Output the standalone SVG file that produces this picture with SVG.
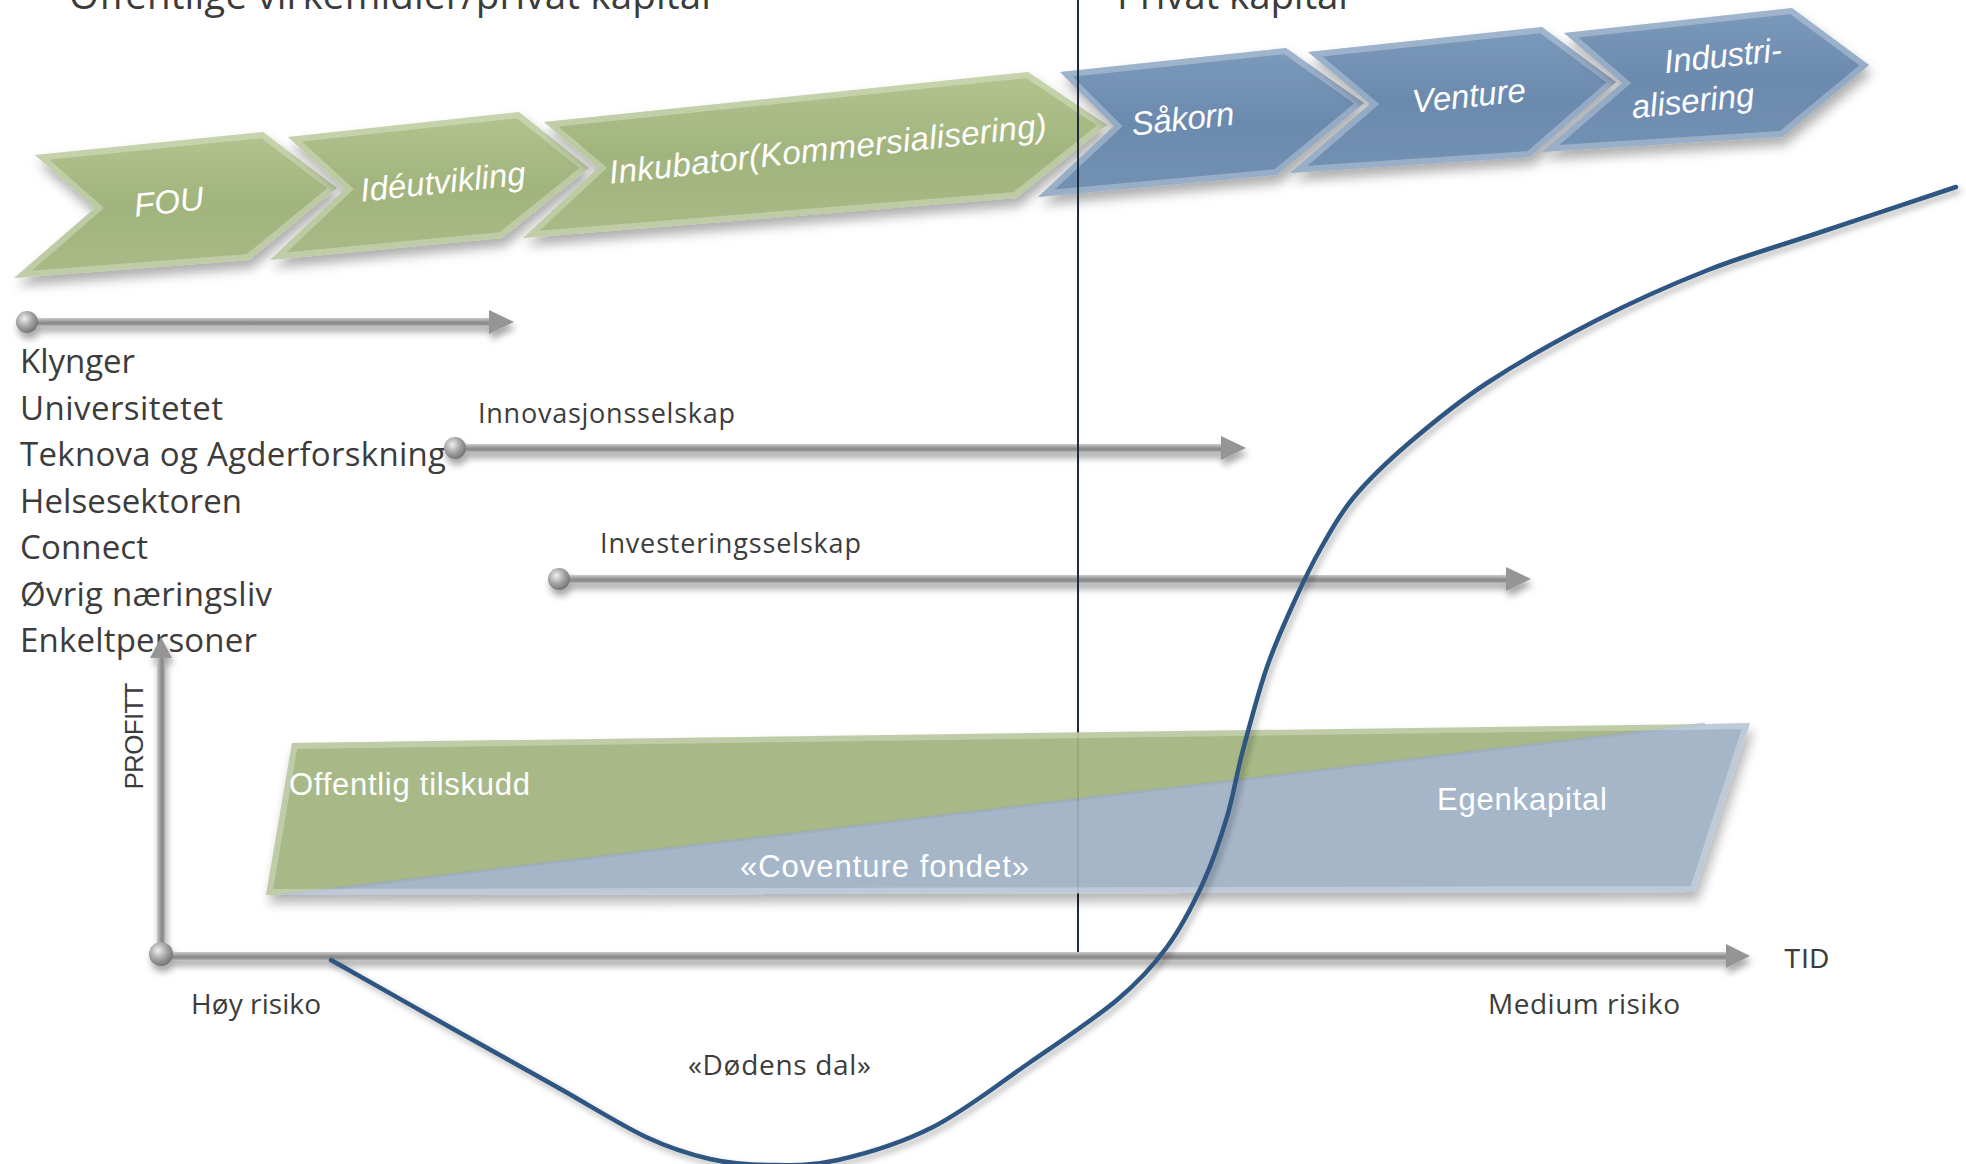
<svg xmlns="http://www.w3.org/2000/svg" width="1966" height="1164" viewBox="0 0 1966 1164">
<defs>
<style>
.lbl{font-family:'Open Sans','Liberation Sans',sans-serif;fill:#3c3c3c;}
.chev{font-family:'Liberation Sans',Arial,sans-serif;font-style:italic;font-size:33px;fill:#ffffff;text-anchor:middle;}
.area{font-family:'Liberation Sans',Arial,sans-serif;font-size:31px;fill:#ffffff;}
.ax{font-family:'Liberation Sans',Arial,sans-serif;fill:#3c3c3c;}
.bevel{fill:none;stroke:#ffffff;stroke-opacity:0.28;stroke-width:12;stroke-linejoin:miter;}
</style>
<filter id="sh" filterUnits="userSpaceOnUse" x="0" y="0" width="1966" height="1164">
<feDropShadow dx="3" dy="8" stdDeviation="6" flood-color="#000" flood-opacity="0.32"/>
</filter>
<filter id="ash" filterUnits="userSpaceOnUse" x="0" y="0" width="1966" height="1164">
<feDropShadow dx="2" dy="6" stdDeviation="3.5" flood-color="#000" flood-opacity="0.35"/>
</filter>
<filter id="csh" filterUnits="userSpaceOnUse" x="0" y="0" width="1966" height="1164">
<feDropShadow dx="3" dy="4" stdDeviation="3" flood-color="#000" flood-opacity="0.3"/>
</filter>
<linearGradient id="gGreen" x1="0" y1="0" x2="0" y2="1">
<stop offset="0" stop-color="#b3c48f"/><stop offset="0.5" stop-color="#a2b47d"/><stop offset="1" stop-color="#a9ba86"/>
</linearGradient>
<linearGradient id="gBlue" x1="0" y1="0" x2="0" y2="1">
<stop offset="0" stop-color="#7c9abb"/><stop offset="0.5" stop-color="#6b8aae"/><stop offset="1" stop-color="#7391b3"/>
</linearGradient>
<linearGradient id="shaftH" x1="0" y1="0" x2="0" y2="1">
<stop offset="0" stop-color="#cccccc"/><stop offset="0.4" stop-color="#9c9c9c"/><stop offset="0.65" stop-color="#858585"/><stop offset="1" stop-color="#b0b0b0"/>
</linearGradient>
<linearGradient id="shaftV" x1="0" y1="0" x2="1" y2="0">
<stop offset="0" stop-color="#cccccc"/><stop offset="0.4" stop-color="#9c9c9c"/><stop offset="0.65" stop-color="#858585"/><stop offset="1" stop-color="#b0b0b0"/>
</linearGradient>
<radialGradient id="ball" cx="0.38" cy="0.35" r="0.7">
<stop offset="0" stop-color="#f0f0f0"/><stop offset="0.5" stop-color="#a8a8a8"/><stop offset="1" stop-color="#6e6e6e"/>
</radialGradient>
<path id="pFou" d="M35,155 L263,132 L337,188 L249,260 L14,278 L95,208 Z"/>
<path id="pIde" d="M288,137 L519,112 L589,168 L502,238 L270,260 L345,189 Z"/>
<path id="pInk" d="M544,122 L1028,72 L1107,125 L1016,198 L523,238 L598,168 Z"/>
<path id="pSak" d="M1060,72 L1286,48 L1364,103 L1277,175 L1038,197 L1114,126 Z"/>
<path id="pVen" d="M1308,52 L1542,27 L1616,82 L1530,157 L1290,173 L1370,104 Z"/>
<path id="pInd" d="M1564,33 L1792,8 L1869,65 L1782,137 L1542,152 L1622,83 Z"/>
<path id="pArea" d="M292,743 L1750,723 L1695,892 L266,895 Z"/>
<clipPath id="cFou"><use href="#pFou"/></clipPath>
<clipPath id="cIde"><use href="#pIde"/></clipPath>
<clipPath id="cInk"><use href="#pInk"/></clipPath>
<clipPath id="cSak"><use href="#pSak"/></clipPath>
<clipPath id="cVen"><use href="#pVen"/></clipPath>
<clipPath id="cInd"><use href="#pInd"/></clipPath>
<clipPath id="cArea"><use href="#pArea"/></clipPath>
</defs>

<rect x="0" y="0" width="1966" height="1164" fill="#ffffff"/>

<g id="title-left"><text class="lbl" x="69" y="9" font-size="38.5" textLength="642">Offentlige virkemidler/privat kapital</text></g>
<g id="title-right"><text class="lbl" x="1117" y="9" font-size="38.5" textLength="231">Privat kapital</text></g>

<g id="chev-fou">
<use href="#pFou" fill="url(#gGreen)" filter="url(#sh)"/>
<use href="#pFou" class="bevel" clip-path="url(#cFou)"/>
<text class="chev" x="170" y="213" transform="rotate(-6 170 213)" textLength="70">FOU</text>
</g>
<g id="chev-ideutvikling">
<use href="#pIde" fill="url(#gGreen)" filter="url(#sh)"/>
<use href="#pIde" class="bevel" clip-path="url(#cIde)"/>
<text class="chev" x="444" y="193" transform="rotate(-6 444 193)" textLength="166">Idéutvikling</text>
</g>
<g id="chev-inkubator">
<use href="#pInk" fill="url(#gGreen)" filter="url(#sh)"/>
<use href="#pInk" class="bevel" clip-path="url(#cInk)"/>
<text class="chev" x="829" y="160" transform="rotate(-6.2 829 160)" textLength="440">Inkubator(Kommersialisering)</text>
</g>
<g id="chev-sakorn">
<use href="#pSak" fill="url(#gBlue)" filter="url(#sh)"/>
<use href="#pSak" class="bevel" clip-path="url(#cSak)"/>
<text class="chev" x="1184" y="130" transform="rotate(-6 1184 130)" textLength="103">Såkorn</text>
</g>
<g id="chev-venture">
<use href="#pVen" fill="url(#gBlue)" filter="url(#sh)"/>
<use href="#pVen" class="bevel" clip-path="url(#cVen)"/>
<text class="chev" x="1470" y="107" transform="rotate(-6 1470 107)" textLength="114">Venture</text>
</g>
<g id="chev-industri">
<use href="#pInd" fill="url(#gBlue)" filter="url(#sh)"/>
<use href="#pInd" class="bevel" clip-path="url(#cInd)"/>
<text class="chev" x="1724" y="67" transform="rotate(-6 1724 67)" textLength="118">Industri-</text>
<text class="chev" x="1694" y="112" transform="rotate(-6 1694 112)" textLength="123">alisering</text>
</g>

<g id="actors">
<text class="lbl" x="20" y="373" font-size="33" textLength="115">Klynger</text>
<text class="lbl" x="20" y="420" font-size="33" textLength="203">Universitetet</text>
<text class="lbl" x="20" y="466" font-size="33" textLength="426">Teknova og Agderforskning</text>
<text class="lbl" x="20" y="513" font-size="33" textLength="222">Helsesektoren</text>
<text class="lbl" x="20" y="559" font-size="33" textLength="128">Connect</text>
<text class="lbl" x="20" y="606" font-size="33" textLength="252">Øvrig næringsliv</text>
<text class="lbl" x="20" y="652" font-size="33" textLength="237">Enkeltpersoner</text>
</g>

<g id="label-innovasjon"><text class="lbl" x="478" y="423" font-size="27" textLength="257">Innovasjonsselskap</text></g>
<g id="label-investering"><text class="lbl" x="600" y="553" font-size="27" textLength="261">Investeringsselskap</text></g>

<g id="connectors">
<g filter="url(#ash)">
<rect x="27" y="318" width="464" height="8" fill="url(#shaftH)"/>
<polygon points="489,310 514,322 489,334" fill="#959595"/>
<circle cx="27" cy="322" r="11" fill="url(#ball)"/>
</g>
<g filter="url(#ash)">
<rect x="455" y="444" width="769" height="8" fill="url(#shaftH)"/>
<polygon points="1221,436 1246,448 1221,460" fill="#959595"/>
<circle cx="455" cy="448" r="11" fill="url(#ball)"/>
</g>
<g filter="url(#ash)">
<rect x="559" y="575" width="950" height="8" fill="url(#shaftH)"/>
<polygon points="1506,567 1531,579 1506,591" fill="#959595"/>
<circle cx="559" cy="579" r="11" fill="url(#ball)"/>
</g>
</g>

<g id="divider"><line x1="1078" y1="0" x2="1078" y2="954" stroke="#1e2b3a" stroke-width="2"/></g>

<g id="financing-area" opacity="0.93">
<g filter="url(#sh)">
<path d="M292,743 L1705,724 L282,895 L266,895 Z" fill="#a2b47e"/>
<path d="M282,895 L1705,724 L1750,723 L1695,892 Z" fill="#a0b1c5"/>
</g>
<path d="M282,895 L1705,724" fill="none" stroke="#8fa3b8" stroke-width="3" stroke-opacity="0.6"/>
<use href="#pArea" class="bevel" clip-path="url(#cArea)"/>
</g>
<g id="label-offentlig"><text class="area" x="289" y="795" textLength="241">Offentlig tilskudd</text></g>
<g id="label-coventure"><text class="area" x="740" y="877" textLength="289">«Coventure fondet»</text></g>
<g id="label-egenkapital"><text class="area" x="1437" y="810" textLength="170">Egenkapital</text></g>

<g id="axes">
<g filter="url(#ash)">
<rect x="157" y="655" width="8" height="299" fill="url(#shaftV)"/>
<polygon points="150,658 161,637 172,658" fill="#959595"/>
<rect x="161" y="952" width="1567" height="8" fill="url(#shaftH)"/>
<polygon points="1726,944 1750,956 1726,968" fill="#959595"/>
<circle cx="161" cy="954" r="12" fill="url(#ball)"/>
</g>
<text class="ax" x="143" y="736" font-size="26" text-anchor="middle" textLength="107" transform="rotate(-90 143 736)">PROFITT</text>
<text class="ax" x="1784" y="968" font-size="27" textLength="45">TID</text>
</g>

<g id="profit-curve">
<path filter="url(#csh)" fill="none" stroke="#2e5680" stroke-width="4.5" stroke-linecap="round" d="M331,960 C351.7,971.7 417.3,1008.8 455,1030 C492.7,1051.2 525.2,1069.2 557,1087 C588.8,1104.8 620.5,1125 646,1137 C671.5,1149 689.7,1154.3 710,1159 C730.3,1163.7 746.7,1164.8 768,1165 C789.3,1165.2 810.5,1166.3 838,1160 C865.5,1153.7 901.2,1143.2 933,1127 C964.8,1110.8 998.3,1084.2 1029,1063 C1059.7,1041.8 1094,1019.3 1117,1000 C1140,980.7 1152.7,966.5 1167,947 C1181.3,927.5 1193,904.7 1203,883 C1213,861.3 1220.3,839.2 1227,817 C1233.7,794.8 1236.3,775 1243,750 C1249.7,725 1258.3,692 1267,667 C1275.7,642 1286,619.8 1295,600 C1304,580.2 1311.2,565.2 1321,548 C1330.8,530.8 1339.3,514.5 1354,497 C1368.7,479.5 1386.8,462 1409,443 C1431.2,424 1455.7,403.5 1487,383 C1518.3,362.5 1560.2,338.8 1597,320 C1633.8,301.2 1671.2,284.5 1708,270 C1744.8,255.5 1776.7,246.8 1818,233 C1859.3,219.2 1933,194.7 1956,187"/>
</g>

<g id="risk-labels">
<text class="lbl" x="191" y="1014" font-size="28" textLength="130">Høy risiko</text>
<text class="lbl" x="1488" y="1014" font-size="28" textLength="192">Medium risiko</text>
<text class="lbl" x="688" y="1075" font-size="28" textLength="183">«Dødens dal»</text>
</g>
</svg>
